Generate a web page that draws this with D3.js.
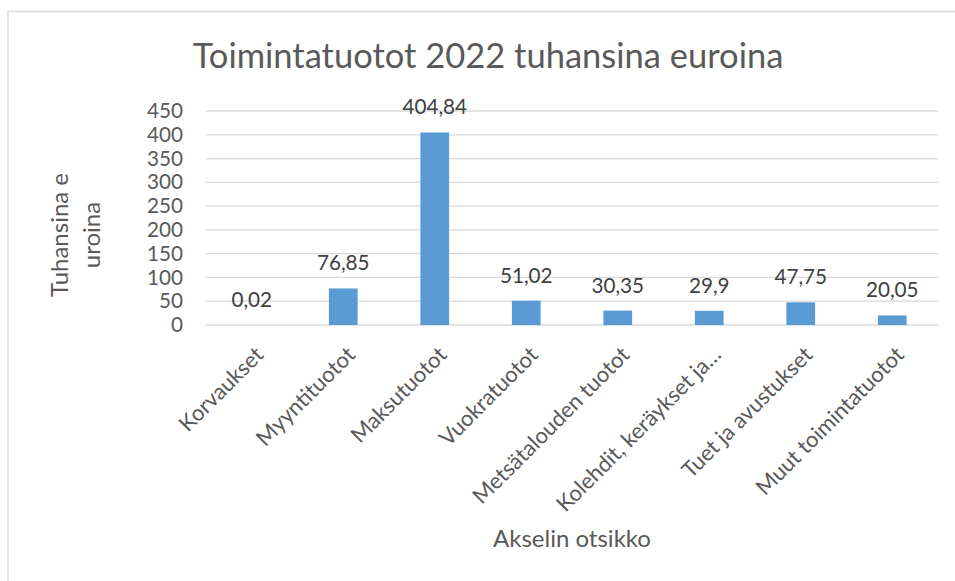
<!DOCTYPE html>
<html>
<head>
<meta charset="utf-8">
<script src="https://cdn.jsdelivr.net/npm/d3@7"></script>
<style>
  html, body { margin: 0; padding: 0; background: #fff; }
  svg { display: block; font-family: Lato, "Open Sans", sans-serif; }
</style>
</head>
<body>
<svg id="chart" width="955" height="581"></svg>
<script>
const categories = ["Korvaukset", "Myyntituotot", "Maksutuotot", "Vuokratuotot", "Metsätalouden tuotot", "Kolehdit, keräykset ja…", "Tuet ja avustukset", "Muut toimintatuotot"];
const values = [0.02, 76.85, 404.84, 51.02, 30.35, 29.9, 47.75, 20.05];
const valueLabels = ["0,02", "76,85", "404,84", "51,02", "30,35", "29,9", "47,75", "20,05"];
const yTicks = [0, 50, 100, 150, 200, 250, 300, 350, 400, 450];
const chartTitle = "Toimintatuotot 2022 tuhansina euroina";
const xTitle = "Akselin otsikko";
const yTitleLines = ["Tuhansina e", "uroina"];

const svg = d3.select("#chart");
const textColor = "#595959";
const gridColor = "#d9d9d9";
const barColor = "#5b9bd5";

// chart frame
svg.append("rect").attr("x", 8).attr("y", 11.5).attr("width", 1000).attr("height", 700)
  .attr("fill", "none").attr("stroke", gridColor).attr("stroke-width", 1.5);

const x = d3.scaleBand().domain(categories).range([206, 938]).paddingInner(0.686).paddingOuter(0.343);
const y = d3.scaleLinear().domain([0, 450]).range([325, 111]);

// gridlines
svg.append("g").selectAll("line").data(yTicks).join("line")
  .attr("x1", 206).attr("x2", 938)
  .attr("y1", d => y(d)).attr("y2", d => y(d))
  .attr("stroke", gridColor).attr("stroke-width", 1.3);

// y axis labels
const yAxis = d3.axisLeft(y).tickValues(yTicks).tickSize(0).tickPadding(0).tickFormat(d3.format("d"));
const yg = svg.append("g").attr("transform", "translate(183,0)").call(yAxis);
yg.select(".domain").remove();
yg.selectAll("text").attr("fill", textColor).style("font-size", "20.7px").style("font-family", "Lato");

// bars
svg.append("g").selectAll("rect").data(values).join("rect")
  .attr("x", (d, i) => x(categories[i]))
  .attr("width", x.bandwidth())
  .attr("y", d => y(d))
  .attr("height", d => y(0) - y(d))
  .attr("fill", barColor);

// data labels
svg.append("g").selectAll("text").data(values).join("text")
  .attr("x", (d, i) => x(categories[i]) + x.bandwidth() / 2)
  .attr("y", d => y(d) - 18)
  .attr("text-anchor", "middle")
  .attr("fill", "#404040")
  .style("font-size", "20.7px")
  .text((d, i) => valueLabels[i]);

// category labels
const xAxis = d3.axisBottom(x).tickSize(0).tickPadding(0);
const xg = svg.append("g").call(xAxis);
xg.select(".domain").remove();
xg.selectAll(".tick").attr("transform", d => `translate(${x(d) + x.bandwidth() / 2 + 2},345)`);
xg.selectAll("text")
  .attr("x", 0).attr("y", 0).attr("dy", "0.72em")
  .attr("transform", "rotate(-45)")
  .attr("text-anchor", "end")
  .attr("fill", textColor)
  .style("font-size", "22px").style("font-family", "Lato");

// title
svg.append("text").attr("x", 488).attr("y", 68).attr("text-anchor", "middle")
  .attr("fill", textColor).style("font-size", "34.5px").text(chartTitle);

// x axis title
svg.append("text").attr("x", 572).attr("y", 547).attr("text-anchor", "middle")
  .attr("fill", textColor).style("font-size", "24px").text(xTitle);

// y axis title
const yt = svg.append("text").attr("transform", "translate(68,235) rotate(-90)")
  .attr("text-anchor", "middle").attr("fill", textColor).style("font-size", "24px");
yTitleLines.forEach((t, i) => yt.append("tspan").attr("x", 0).attr("y", i * 32).text(t));
</script>
</body>
</html>
